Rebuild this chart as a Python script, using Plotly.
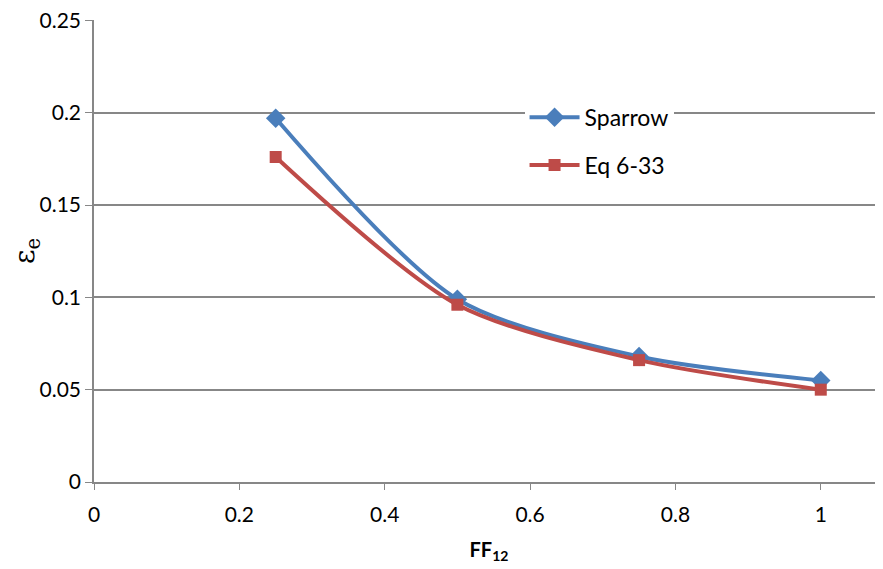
import plotly.graph_objects as go

ff12 = [0.25, 0.5, 0.75, 1.0]
sparrow = [0.197, 0.099, 0.068, 0.055]
eq633 = [0.176, 0.096, 0.066, 0.050]

x_ticks = [0, 0.2, 0.4, 0.6, 0.8, 1.0]
x_ticktext = ["0", "0.2", "0.4", "0.6", "0.8", "1"]
y_ticks = [0, 0.05, 0.1, 0.15, 0.2, 0.25]
y_ticktext = ["0", "0.05", "0.1", "0.15", "0.2", "0.25"]

FONT = "Lato, 'Open Sans', sans-serif"
GRID = "#878787"

fig = go.Figure()
fig.add_trace(go.Scatter(
    x=ff12, y=sparrow, name="Sparrow", mode="lines+markers",
    line=dict(color="#4A7EBB", width=4, shape="spline", smoothing=0.8),
    marker=dict(symbol="diamond", size=15, color="#4A7EBB"),
    legendgroup="a"))
fig.add_trace(go.Scatter(
    x=ff12, y=eq633, name="Eq 6-33", mode="lines+markers",
    line=dict(color="#BE4B48", width=4, shape="spline", smoothing=0.8),
    marker=dict(symbol="square", size=12, color="#BE4B48"),
    legendgroup="b"))

fig.update_layout(
    width=883, height=569,
    margin=dict(l=86, r=7, t=12, b=95),
    paper_bgcolor="white", plot_bgcolor="white",
    font=dict(family=FONT, size=21, color="black"),
    showlegend=True,
    legend=dict(x=0.545, y=0.836, xanchor="left", yanchor="top",
                bgcolor="white", font=dict(size=23, family=FONT),
                traceorder="grouped", tracegroupgap=15,
                itemwidth=50),
    xaxis=dict(range=[0, 1.087], tickvals=x_ticks, ticktext=x_ticktext,
               showgrid=False, zeroline=False, automargin=False,
               showline=True, linecolor=GRID, linewidth=1.5,
               ticks="outside", ticklen=6, tickcolor=GRID,
               ticklabelstandoff=7,
               title=dict(text="<b>FF<sub>12</sub></b>", standoff=18,
                          font=dict(size=20))),
    yaxis=dict(range=[0, 0.2502], tickvals=y_ticks, ticktext=y_ticktext,
               showgrid=True, gridcolor=GRID, gridwidth=1.5, zeroline=False,
               showline=True, linecolor=GRID, linewidth=1.5, automargin=False,
               ticks="outside", ticklen=7, tickcolor=GRID,
               ticklabeloverflow="allow",
               title=dict(text="ε<sub>e</sub>", standoff=22,
                          font=dict(size=28, family="'DejaVu Serif', serif"))),
)

fig.write_html("out.html")
